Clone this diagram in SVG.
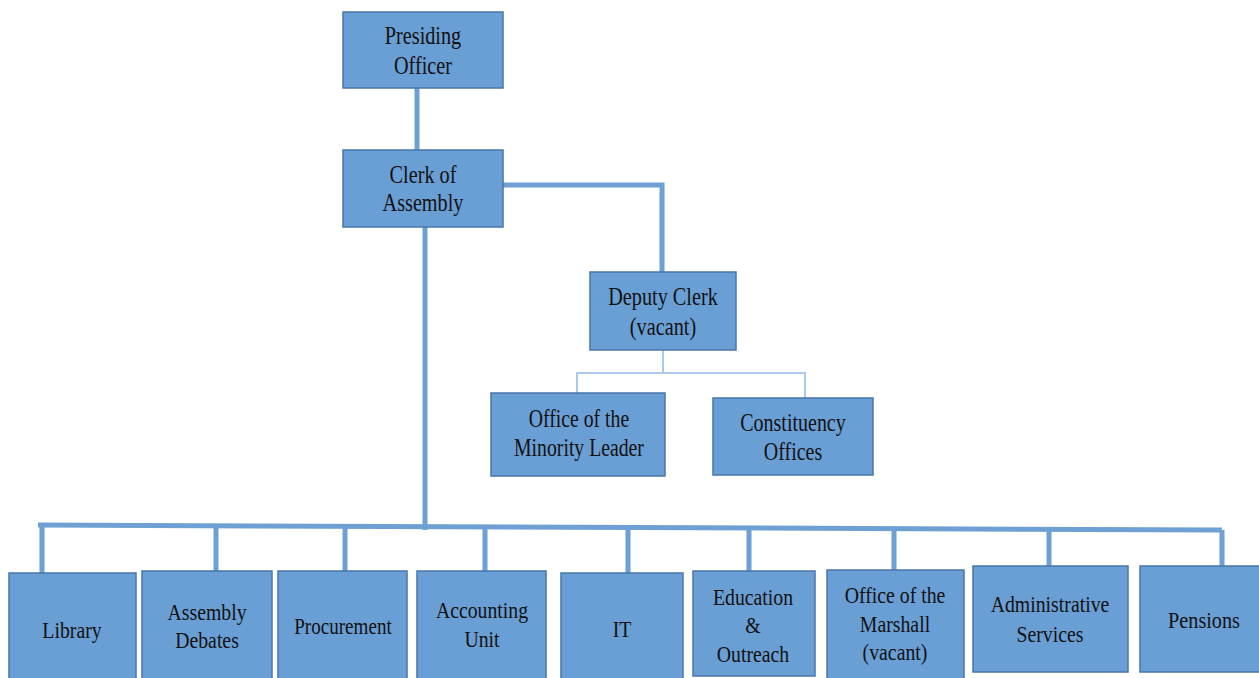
<svg xmlns="http://www.w3.org/2000/svg" width="1259" height="678" viewBox="0 0 1259 678">
<style>
.box{fill:#6a9fd5;stroke:#4876aa;stroke-width:1.5}
.t{font-family:"Liberation Serif","Times New Roman",serif;font-size:25px;fill:#111;text-anchor:middle}
.b{font-size:23px}
.c{fill:none;stroke:#6fa0d3;stroke-width:5}
.cl{fill:none;stroke:#a9c9ea;stroke-width:2}
</style>
<rect width="1259" height="678" fill="#ffffff"/>
<g id="connectors">
<path class="c" d="M417 88V150"/>
<path class="c" d="M503 185H662V272"/>
<path class="cl" d="M663 350V373M577 393V373H805V398"/>
<path class="c" d="M425 227V530"/>
<path class="c" d="M38 525L1222 530"/>
<path class="c" d="M42 525V573M216 525V571M345 526V571M485 527V571M628 527V573M749 528V571M894 528V570M1049 529V566M1222 530V566"/>
</g>
<g id="presiding"><rect class="box" x="343" y="12" width="160" height="76"/><text class="t" transform="translate(423 44) scale(0.81 1)">Presiding</text><text class="t" transform="translate(423 74) scale(0.81 1)">Officer</text></g>
<g id="clerk"><rect class="box" x="343" y="150" width="160" height="77"/><text class="t" transform="translate(423 183) scale(0.81 1)">Clerk of</text><text class="t" transform="translate(423 211) scale(0.81 1)">Assembly</text></g>
<g id="deputy"><rect class="box" x="590" y="272" width="146" height="78"/><text class="t" transform="translate(663 305) scale(0.81 1)">Deputy Clerk</text><text class="t" transform="translate(663 335) scale(0.81 1)">(vacant)</text></g>
<g id="minority"><rect class="box" x="491" y="393" width="174" height="83"/><text class="t" transform="translate(579 427) scale(0.79 1)">Office of the</text><text class="t" transform="translate(579 456) scale(0.79 1)">Minority Leader</text></g>
<g id="constituency"><rect class="box" x="713" y="398" width="160" height="77"/><text class="t" transform="translate(793 431) scale(0.8 1)">Constituency</text><text class="t" transform="translate(793 460) scale(0.8 1)">Offices</text></g>
<g id="library"><rect class="box" x="9" y="573" width="127" height="110"/><text class="t b" transform="translate(72 638) scale(0.86 1)">Library</text></g>
<g id="debates"><rect class="box" x="142" y="571" width="130" height="112"/><text class="t b" transform="translate(207 620) scale(0.86 1)">Assembly</text><text class="t b" transform="translate(207 648) scale(0.86 1)">Debates</text></g>
<g id="procurement"><rect class="box" x="278" y="571" width="129" height="112"/><text class="t b" transform="translate(343 634) scale(0.83 1)">Procurement</text></g>
<g id="accounting"><rect class="box" x="417" y="571" width="129" height="112"/><text class="t b" transform="translate(482 618) scale(0.86 1)">Accounting</text><text class="t b" transform="translate(482 647) scale(0.86 1)">Unit</text></g>
<g id="it"><rect class="box" x="561" y="573" width="122" height="110"/><text class="t b" transform="translate(622 637) scale(0.86 1)">IT</text></g>
<g id="education"><rect class="box" x="693" y="571" width="122" height="105"/><text class="t b" transform="translate(753 605) scale(0.86 1)">Education</text><text class="t b" transform="translate(753 633) scale(0.86 1)">&amp;</text><text class="t b" transform="translate(753 662) scale(0.86 1)">Outreach</text></g>
<g id="marshall"><rect class="box" x="827" y="570" width="137" height="113"/><text class="t b" transform="translate(895 603) scale(0.86 1)">Office of the</text><text class="t b" transform="translate(895 632) scale(0.86 1)">Marshall</text><text class="t b" transform="translate(895 660) scale(0.86 1)">(vacant)</text></g>
<g id="admin"><rect class="box" x="973" y="566" width="155" height="106"/><text class="t b" transform="translate(1050 612) scale(0.86 1)">Administrative</text><text class="t b" transform="translate(1050 642) scale(0.86 1)">Services</text></g>
<g id="pensions"><rect class="box" x="1140" y="566" width="125" height="106"/><text class="t b" transform="translate(1204 628) scale(0.88 1)">Pensions</text></g>
</svg>
